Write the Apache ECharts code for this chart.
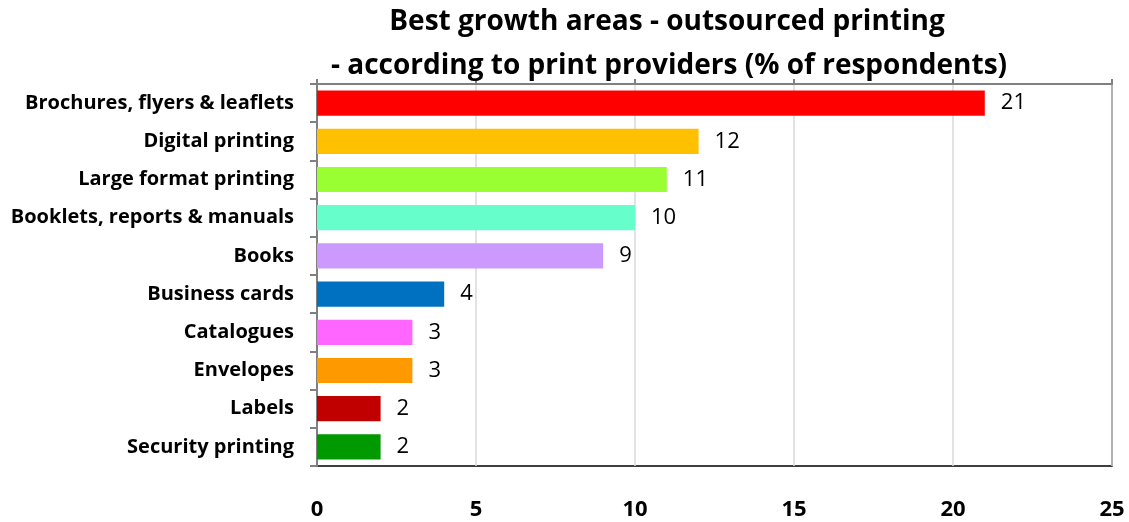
<!DOCTYPE html>
<html><head><meta charset="utf-8">
<script src="https://cdn.jsdelivr.net/npm/echarts@6/dist/echarts.min.js"></script>
<style>html,body{margin:0;padding:0;background:#fff}#c{width:1129px;height:522px}</style>
</head><body><div id="c"></div>
<script>
const categories = ["Brochures, flyers & leaflets","Digital printing","Large format printing","Booklets, reports & manuals","Books","Business cards","Catalogues","Envelopes","Labels","Security printing"];
const values = [21,12,11,10,9,4,3,3,2,2];
const colors = ["#FF0000","#FFC000","#99FF33","#66FFCC","#CC99FF","#0070C0","#FF66FF","#FF9900","#C00000","#009900"];
const xTicks = [0,5,10,15,20,25];
const titleLines = ["Best growth areas - outsourced printing","- according to print providers (% of respondents)"];

const FONT = "Open Sans";
const chart = echarts.init(document.getElementById('c'));
chart.setOption({
  animation:false,
  title:[
    {text:titleLines[0], left:662, textAlign:'center', top:3, textStyle:{fontFamily:FONT,fontWeight:'bold',fontSize:28,color:'#000'}},
    {text:titleLines[1], left:664, textAlign:'center', top:47, textStyle:{fontFamily:FONT,fontWeight:'bold',fontSize:28,color:'#000'}}
  ],
  grid:{left:317,right:17,top:84,bottom:56,show:true,borderColor:'#000',borderWidth:1.5,backgroundColor:'transparent'},
  xAxis:[
    {type:'value',min:xTicks[0],max:xTicks[xTicks.length-1],interval:5,position:'bottom',
     axisLine:{show:false},axisTick:{show:false},
     splitLine:{show:true,lineStyle:{color:'#d9d9d9',width:1.5}},
     axisLabel:{margin:33,fontFamily:FONT,fontWeight:'bold',fontSize:22,color:'#000'}},
    {type:'value',min:xTicks[0],max:xTicks[xTicks.length-1],interval:5,position:'top',
     axisLine:{show:true,lineStyle:{color:'#808080',width:2}},axisTick:{show:true,length:5,lineStyle:{color:'#808080',width:2}},
     splitLine:{show:false},axisLabel:{show:false}}
  ],
  yAxis:{type:'category',data:categories,inverse:true,
    axisLine:{show:true,lineStyle:{color:'#808080',width:2}},
    axisTick:{show:true,length:7,lineStyle:{color:'#808080',width:2}},
    axisLabel:{margin:23,fontFamily:FONT,fontWeight:'bold',fontSize:20,color:'#000'}},
  series:[{type:'bar',xAxisIndex:0,barWidth:'66%',
    data:values.map((v,i)=>({value:v,itemStyle:{color:colors[i]}})),
    label:{show:true,position:'right',distance:16,fontFamily:FONT,fontSize:22,color:'#000'}}]
});
</script></body></html>
